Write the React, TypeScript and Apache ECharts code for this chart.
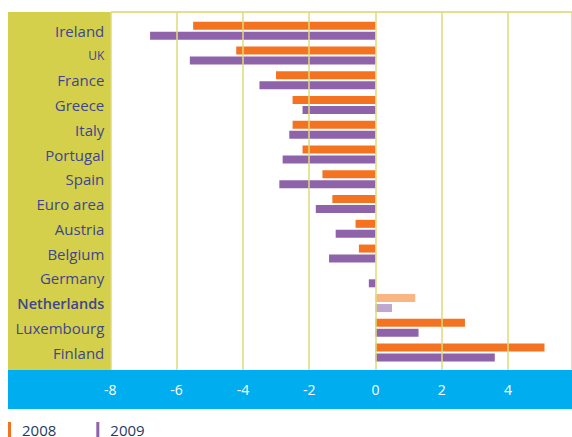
import React, { useEffect, useRef } from "react";
import * as echarts from "echarts";

const categories = [
  "Ireland", "UK", "France", "Greece", "Italy", "Portugal", "Spain",
  "Euro area", "Austria", "Belgium", "Germany", "Netherlands", "Luxembourg", "Finland",
];
const values2008 = [-5.5, -4.2, -3.0, -2.5, -2.5, -2.2, -1.6, -1.3, -0.6, -0.5, 0, 1.2, 2.7, 5.1];
const values2009 = [-6.8, -5.6, -3.5, -2.2, -2.6, -2.8, -2.9, -1.8, -1.2, -1.4, -0.2, 0.5, 1.3, 3.6];
const seriesNames = ["2008", "2009"];
const highlightCategory = "Netherlands";

const ORANGE = "#F47321";
const PURPLE = "#8E63AA";
const ORANGE_LIGHT = "#FAB585";
const PURPLE_LIGHT = "#BFA7D0";
const FONT = "'Open Sans', 'Noto Sans', sans-serif";

export default function App() {
  const ref = useRef<HTMLDivElement>(null);
  useEffect(() => {
    document.body.style.margin = "8px 0 0 8px";
    if (!ref.current) return;
    const chart = echarts.init(ref.current, null, { renderer: "svg" });
    const mk = (vals: number[], light: string) =>
      vals.map((v, i) =>
        categories[i] === highlightCategory ? { value: v, itemStyle: { color: light } } : v
      );
    chart.setOption({
      animation: false,
      textStyle: { fontFamily: FONT },
      graphic: [
        { type: "rect", z: 0, shape: { x: 0, y: 4, width: 103, height: 358 }, style: { fill: "#D4D04B" } },
        { type: "line", z: 0, shape: { x1: 103, y1: 4, x2: 564, y2: 4 }, style: { stroke: "#D9D56C", lineWidth: 1.5 } },
        { type: "rect", z: 0, shape: { x: 0, y: 362, width: 564, height: 39 }, style: { fill: "#00AEEF" } },
      ],
      grid: [
        { left: 102.3, right: 0, top: 4, bottom: 67 },
        { left: 102.3, right: 0, top: 10.5, bottom: 72.1 },
      ],
      xAxis: [
        {
          gridIndex: 0,
          type: "value",
          min: -8,
          max: 5.93,
          interval: 2,
          z: 10,
          axisLine: { show: false },
          axisTick: { show: false },
          splitLine: { show: true, lineStyle: { color: "#DEDA78", width: 1.5 } },
          axisLabel: { color: "#FFFFFF", fontSize: 14, margin: 12, showMaxLabel: false, fontFamily: FONT },
        },
        {
          gridIndex: 1,
          type: "value",
          min: -8,
          max: 5.93,
          show: false,
        },
      ],
      yAxis: [
        { gridIndex: 0, type: "value", show: false },
        {
          gridIndex: 1,
          type: "category",
          data: categories,
          inverse: true,
          z: 10,
          axisLine: { show: false },
          axisTick: { show: false },
          splitLine: { show: false },
          axisLabel: {
            margin: 6,
            color: "#3F4590",
            fontSize: 15,
            fontFamily: FONT,
            formatter: (v: string) =>
              v === "UK" ? "{sc|UK}" : v === highlightCategory ? "{b|" + v + "}" : v,
            rich: {
              sc: { fontSize: 12, color: "#3F4590", fontFamily: FONT },
              b: { fontSize: 14.5, fontWeight: 600, color: "#3F4590", fontFamily: FONT },
            },
          },
        },
      ],
      legend: {
        left: 0,
        top: 414,
        padding: 0,
        icon: "rect",
        itemWidth: 3,
        itemHeight: 16,
        itemGap: 40,
        data: seriesNames,
        textStyle: { color: "#1F3A62", fontSize: 15, padding: [0, 0, 0, 6], fontFamily: FONT },
      },
      series: [
        {
          name: seriesNames[0],
          type: "bar",
          xAxisIndex: 1,
          yAxisIndex: 1,
          barWidth: 8,
          barGap: "25%",
          itemStyle: { color: ORANGE },
          data: mk(values2008, ORANGE_LIGHT),
        },
        {
          name: seriesNames[1],
          type: "bar",
          xAxisIndex: 1,
          yAxisIndex: 1,
          barWidth: 8,
          barGap: "25%",
          itemStyle: { color: PURPLE },
          data: mk(values2009, PURPLE_LIGHT),
        },
      ],
    });
    return () => chart.dispose();
  }, []);
  return <div ref={ref} style={{ width: 564, height: 429 }} />;
}
